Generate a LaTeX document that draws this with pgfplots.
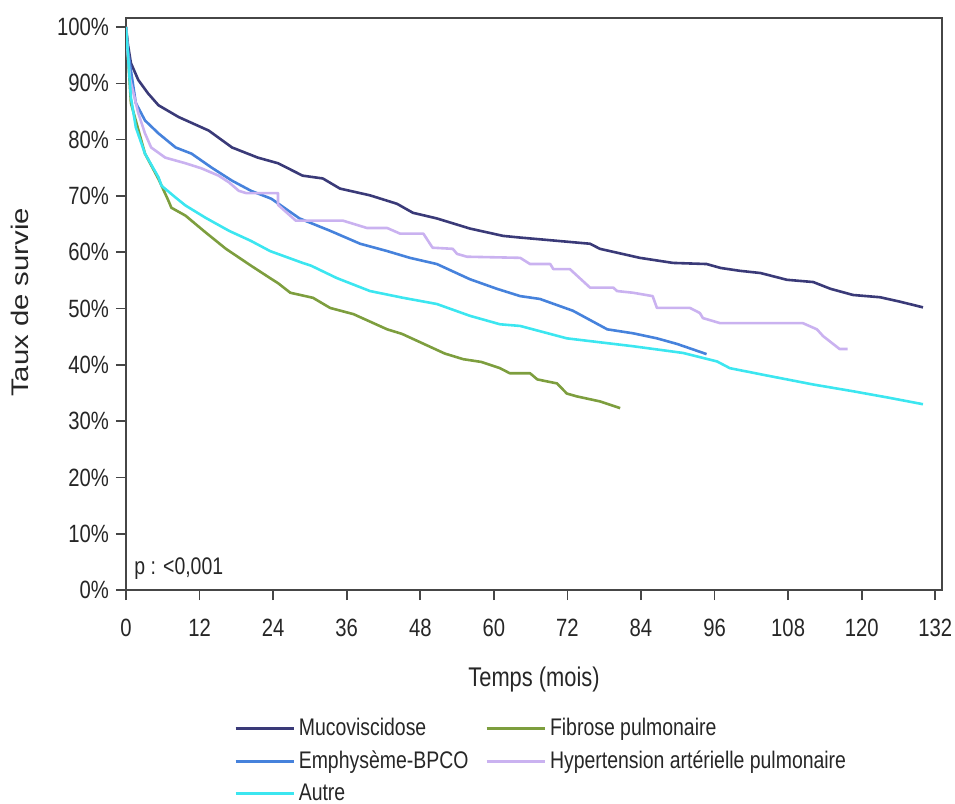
\documentclass[border=0pt]{standalone}
\usepackage{fontspec}
\setmainfont[FakeStretch=0.81]{Liberation Sans}
\setsansfont[FakeStretch=0.81]{Liberation Sans}
\newfontfamily\ylabfont[FakeStretch=1.22]{Liberation Sans}
\usepackage{pgfplots}
\pgfplotsset{compat=1.18}
\definecolor{cmuco}{RGB}{58,58,120}
\definecolor{cemph}{RGB}{70,130,220}
\definecolor{cautre}{RGB}{60,230,240}
\definecolor{cfib}{RGB}{125,158,62}
\definecolor{chtap}{RGB}{202,178,240}
\definecolor{cframe}{RGB}{70,70,70}
\begin{document}
\begin{tikzpicture}
\begin{axis}[
  scale only axis,
  width=408pt, height=286pt,
  xmin=0, xmax=133.1, ymin=0, ymax=101.6,
  axis line style={cframe, line width=0.8pt},
  tick style={cframe, line width=0.8pt},
  tick align=outside, major tick length=5pt,
  xtick pos=bottom, ytick pos=left,
  xtick={0,12,...,132},
  xticklabels={0,12,24,36,48,60,72,84,96,108,120,132},
  ytick={0,10,...,100},
  yticklabels={0\%,10\%,20\%,30\%,40\%,50\%,60\%,70\%,80\%,90\%,100\%},
  ticklabel style={font=\fontsize{12.5}{14}\selectfont, text=black!85},
  xticklabel style={yshift=-6pt},
  xlabel={Temps (mois)}, ylabel={\ylabfont Taux de survie},
  label style={font=\fontsize{12}{14}\selectfont, text=black!85},
  xlabel style={at={(axis description cs:0.5,-0.157)}, anchor=center, font=\fontsize{13.5}{15}\selectfont},
  ylabel style={at={(axis description cs:-0.13,0.503)}, anchor=center},
  legend columns=2,
  legend cell align=left,
  legend style={draw=none, fill=none, at={(0.51,-0.217)}, anchor=north,
    font=\fontsize{12}{14}\selectfont, text=black!85, inner sep=0pt, row sep=2pt,
    /tikz/every even column/.append style={column sep=6.5pt}},
  legend image code/.code={\draw[#1] (0pt,0pt) -- (29pt,0pt);},
  every axis plot/.append style={line width=1.3pt, line join=round},
]
\addplot[cmuco] coordinates {
(0,100)(0.3,97)(0.8,93.6)(2.0,90.6)(3.6,88.2)(5.3,86.1)(8.6,84)(13.5,81.6)(17.3,78.6)(21.5,76.8)(24.8,75.8)(28.8,73.6)(32.1,73.1)(34.9,71.3)(39.8,70.1)(44.2,68.6)(46.8,67.0)(50.7,66.0)(56.1,64.2)(61.5,62.9)(64.3,62.6)(66.4,62.4)(75.7,61.5)(77.3,60.6)(83.8,59.0)(89.2,58.1)(94.7,57.9)(97,57.2)(100.1,56.7)(103.5,56.3)(107.8,55.1)(112.1,54.7)(114.9,53.5)(118.6,52.4)(123,52.0)(126.3,51.2)(130,50.2)
};
\addlegendentry{Mucoviscidose}
\addplot[cfib] coordinates {
(0,100)(0.3,95.4)(0.8,86.5)(3.1,77.5)(5.3,73)(6.9,69.2)(7.4,67.9)(9.7,66.5)(13,63.5)(16.3,60.6)(20.4,57.6)(23.5,55.4)(24.8,54.5)(26.8,52.8)(30.5,51.9)(33.3,50.1)(37.1,49)(42.6,46.3)(45,45.5)(48,44)(50,43)(52,42)(55,41)(58,40.5)(61,39.4)(62.6,38.5)(65.9,38.5)(67.1,37.4)(70.3,36.7)(71.9,34.9)(73.5,34.4)(77.3,33.5)(80.6,32.3)
};
\addlegendentry{Fibrose pulmonaire}
\addplot[cemph] coordinates {
(0,100)(0.3,96)(0.8,92.3)(1.6,86.5)(3.1,83.4)(5.3,81.1)(8.1,78.6)(10.7,77.5)(14,75)(17.3,72.7)(20.4,70.9)(23.7,69.5)(28.3,66)(33.3,63.8)(38.2,61.5)(42.6,60.2)(46.3,59.0)(50.7,57.9)(56.1,55.2)(60.5,53.5)(64.3,52.2)(67.5,51.7)(72.9,49.6)(78.5,46.3)(82.7,45.6)(86.6,44.7)(89.9,43.7)(94.7,41.9)
};
\addlegendentry{Emphysème-BPCO}
\addplot[chtap] coordinates {
(0,100)(0.3,95)(0.7,90.6)(2,84.7)(3.1,81.1)(4.1,78.6)(6.4,76.8)(9.7,75.8)(12.3,74.9)(15.1,73.6)(16.8,72.4)(18.4,70.9)(19.6,70.5)(24.8,70.5)(24.8,68.4)(27.7,65.6)(35.4,65.6)(39.3,64.3)(42.6,64.3)(44.7,63.3)(48.5,63.3)(50,60.8)(53.3,60.6)(54,59.7)(55.6,59.2)(64.3,59)(65.9,57.9)(69.2,57.9)(69.7,57)(72.4,57)(75.7,53.7)(79.5,53.7)(80.1,53.1)(82.7,52.8)(85.9,52.2)(86.6,50.1)(92,50.1)(93.6,49.2)(94.1,48.3)(96.9,47.4)(110.4,47.4)(112.7,46.3)(113.7,45.1)(116.4,42.8)(117.7,42.8)
};
\addlegendentry{Hypertension artérielle pulmonaire}
\addplot[cautre] coordinates {
(0,100)(0.3,95.4)(0.8,87.5)(1.6,82.2)(3.1,77.5)(5.3,73.3)(5.8,71.8)(8.1,69.7)(9.7,68.3)(13,66.1)(16.8,63.8)(20.4,62)(23.5,60.2)(28.8,58.1)(30.2,57.6)(34.4,55.4)(39.8,53.1)(45.2,51.9)(50.7,50.8)(56.1,48.7)(61,47.2)(64.3,46.9)(71.9,44.7)(82.7,43.3)(90.9,42.1)(96.4,40.6)(98.5,39.4)(105,38)(112.1,36.5)(118.6,35.3)(124.2,34.2)(130,33)
};
\addlegendentry{Autre}
\node[anchor=west, inner sep=0pt, font=\fontsize{12}{14}\selectfont, text=black!85] at (axis cs:1.3,3.8) {p : <0,001};
\end{axis}
\pgfresetboundingbox
\path ([xshift=-63pt,yshift=-106.5pt]current axis.south west) rectangle ([xshift=6.5pt,yshift=9pt]current axis.north east);
\end{tikzpicture}
\end{document}
